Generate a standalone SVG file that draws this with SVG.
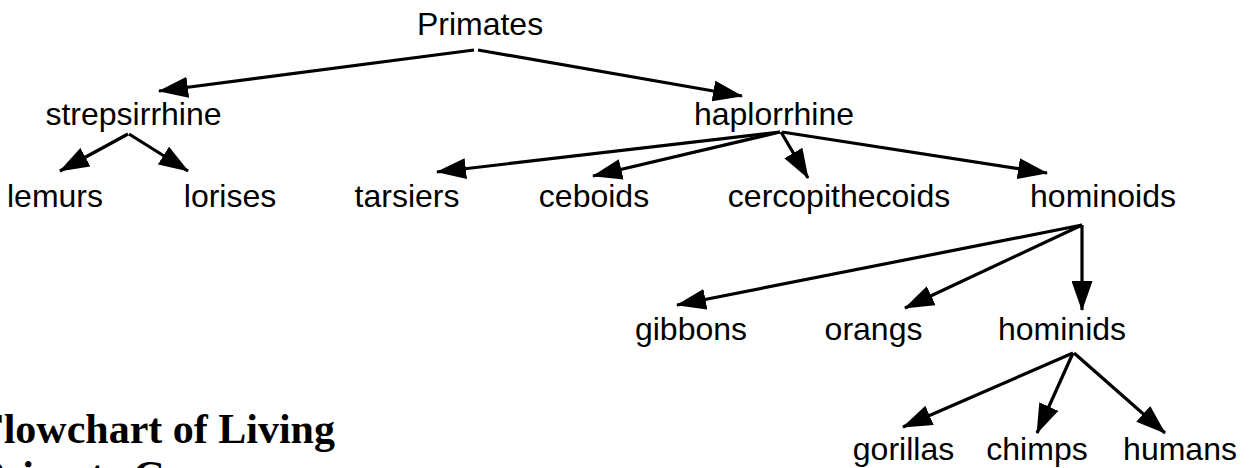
<svg xmlns="http://www.w3.org/2000/svg" width="1253" height="468" viewBox="0 0 1253 468">
<style>
.n{font-family:"Liberation Sans",Arial,Helvetica,sans-serif;font-size:32px;fill:#000;text-anchor:middle}
.t{font-family:"Liberation Serif","Times New Roman",serif;font-size:42px;font-weight:bold;fill:#000}
.c line{stroke:#000;stroke-width:3.2;fill:none;marker-end:url(#ah)}
</style>
<defs>
<marker id="ah" viewBox="0 0 30 21" refX="29" refY="10.5" markerWidth="30" markerHeight="21" markerUnits="userSpaceOnUse" orient="auto">
<path d="M0,0 L30,10.5 L0,21 z" fill="#000"/>
</marker>
</defs>
<rect width="1253" height="468" fill="#fff"/>
<g class="c" id="connectors">
<line x1="474" y1="50" x2="159" y2="91"/>
<line x1="478" y1="50" x2="742" y2="96"/>
<line x1="128" y1="134" x2="60" y2="171"/>
<line x1="129" y1="134" x2="188" y2="171"/>
<line x1="780" y1="132" x2="437" y2="172"/>
<line x1="780" y1="132" x2="593" y2="176"/>
<line x1="781" y1="132" x2="808" y2="178"/>
<line x1="782" y1="132" x2="1047" y2="173"/>
<line x1="1082" y1="225" x2="677" y2="305"/>
<line x1="1082" y1="225" x2="905" y2="308"/>
<line x1="1082" y1="225" x2="1082" y2="310"/>
<line x1="1073" y1="353" x2="903" y2="427"/>
<line x1="1073" y1="353" x2="1037" y2="433"/>
<line x1="1074" y1="353" x2="1165" y2="433"/>
</g>
<g id="primates"><text class="n" x="480" y="35">Primates</text></g>
<g id="strepsirrhine"><text class="n" x="133.5" y="125">strepsirrhine</text></g>
<g id="haplorrhine"><text class="n" x="774" y="125">haplorrhine</text></g>
<g id="lemurs"><text class="n" x="55" y="207">lemurs</text></g>
<g id="lorises"><text class="n" x="230" y="207">lorises</text></g>
<g id="tarsiers"><text class="n" x="407" y="207">tarsiers</text></g>
<g id="ceboids"><text class="n" x="594" y="207">ceboids</text></g>
<g id="cercopithecoids"><text class="n" x="839" y="207">cercopithecoids</text></g>
<g id="hominoids"><text class="n" x="1103" y="207">hominoids</text></g>
<g id="gibbons"><text class="n" x="691" y="340">gibbons</text></g>
<g id="orangs"><text class="n" x="873.5" y="340">orangs</text></g>
<g id="hominids"><text class="n" x="1062" y="340">hominids</text></g>
<g id="gorillas"><text class="n" x="903.5" y="460">gorillas</text></g>
<g id="chimps"><text class="n" x="1037" y="460">chimps</text></g>
<g id="humans"><text class="n" x="1180" y="460">humans</text></g>
<g id="title">
<text class="t" x="-22" y="443">Flowchart of Living</text>
<text class="t" x="-22" y="490">Primate Groups</text>
</g>
</svg>
